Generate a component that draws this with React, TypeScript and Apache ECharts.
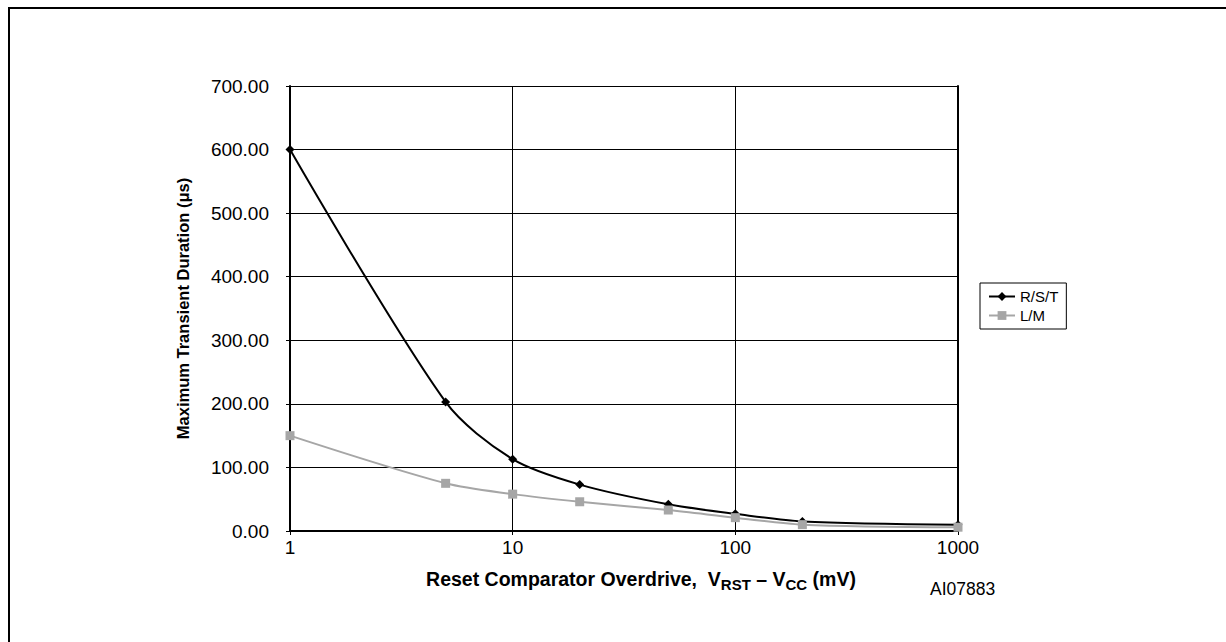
import React, { useEffect, useRef } from "react";
import * as echarts from "echarts";

const overdrive = [1, 5, 10, 20, 50, 100, 200, 1000];
const rstValues = [600, 203, 113, 73, 42, 27, 15, 10];
const lmValues = [150, 75, 58, 46, 33, 21, 10, 6];
const yTicks = [0, 100, 200, 300, 400, 500, 600, 700];

const FONT = "'Liberation Sans', Arial, sans-serif";

export default function App() {
  const ref = useRef<HTMLDivElement>(null);
  useEffect(() => {
    if (!ref.current) return;
    const chart = echarts.init(ref.current, undefined, { renderer: "svg" });
    const option = {
      animation: false,
      backgroundColor: "#ffffff",
      grid: { left: 290, top: 86, right: 268, bottom: 111, containLabel: false },
      legend: {
        left: 980,
        top: 283,
        orient: "vertical",
        borderColor: "#000",
        borderWidth: 1,
        padding: [6, 8, 6, 8],
        itemGap: 4,
        itemWidth: 26,
        itemHeight: 11,
        textStyle: { fontFamily: FONT, fontSize: 15, color: "#000" },
        data: ["R/S/T", "L/M"],
      },
      xAxis: {
        type: "log",
        logBase: 10,
        min: 1,
        max: 1000,
        name:
          "{b|Reset Comparator Overdrive,  V}{s|RST}{b| – V}{s|CC}{b| (mV)}",
        nameLocation: "middle",
        nameGap: 38,
        nameTextStyle: {
          padding: [0, 0, 0, 34],
          rich: {
            b: { fontFamily: FONT, fontSize: 19.5, fontWeight: "bold", color: "#000", lineHeight: 22, verticalAlign: "top" },
            s: { fontFamily: FONT, fontSize: 15, fontWeight: "bold", color: "#000", lineHeight: 22, verticalAlign: "top", padding: [8, 0, 0, 0] },
          },
        },
        axisLine: { show: true, lineStyle: { color: "#000", width: 2 } },
        axisTick: { show: true, length: 4, lineStyle: { color: "#000" } },
        minorTick: { show: false },
        axisLabel: {
          fontFamily: FONT,
          fontSize: 19,
          color: "#000",
          margin: 7,
          formatter: (v: number) => String(Math.round(v)),
        },
        splitLine: { show: true, lineStyle: { color: "#000", width: 1 } },
      },
      yAxis: [
        {
          type: "value",
          min: 0,
          max: 700,
          interval: 100,
          name: "Maximum Transient Duration (μs)",
          nameLocation: "middle",
          nameGap: 99,
          nameTextStyle: { fontFamily: FONT, fontSize: 16.5, fontWeight: "bold", color: "#000" },
          axisLine: { show: true, lineStyle: { color: "#000", width: 2 } },
          axisTick: { show: true, length: 4, lineStyle: { color: "#000" } },
          axisLabel: {
            fontFamily: FONT,
            fontSize: 19,
            color: "#000",
            margin: 21,
            formatter: (v: number) => (yTicks.includes(v) ? v.toFixed(2) : ""),
          },
          splitLine: { show: true, lineStyle: { color: "#000", width: 1 } },
        },
        {
          type: "value",
          position: "right",
          min: 0,
          max: 700,
          interval: 100,
          axisLine: { show: true, onZero: false, lineStyle: { color: "#000", width: 2 } },
          axisTick: { show: false },
          axisLabel: { show: false },
          splitLine: { show: false },
        },
      ],
      series: [
        {
          name: "R/S/T",
          type: "line",
          data: overdrive.map((x, i) => [x, rstValues[i]]),
          smooth: 0.3,
          symbol: "diamond",
          symbolSize: 9,
          lineStyle: { color: "#000", width: 2 },
          itemStyle: { color: "#000" },
          z: 3,
        },
        {
          name: "L/M",
          type: "line",
          data: overdrive.map((x, i) => [x, lmValues[i]]),
          smooth: 0.3,
          symbol: "rect",
          symbolSize: 9,
          lineStyle: { color: "#a6a6a6", width: 2 },
          itemStyle: { color: "#a6a6a6" },
          z: 4,
        },
      ],
      graphic: [
        {
          type: "rect",
          shape: { x: 9, y: 8, width: 1400, height: 900 },
          style: { fill: "none", stroke: "#000", lineWidth: 2 },
          silent: true,
        },
        {
          type: "text",
          left: 930,
          top: 580,
          style: { text: "AI07883", fontFamily: FONT, fontSize: 17.5, fill: "#000" },
        },
      ],
    };
    chart.setOption(option as any);
    return () => chart.dispose();
  }, []);
  return (
    <div
      ref={ref}
      style={{ position: "fixed", left: 0, top: 0, width: 1226, height: 642 }}
    />
  );
}
